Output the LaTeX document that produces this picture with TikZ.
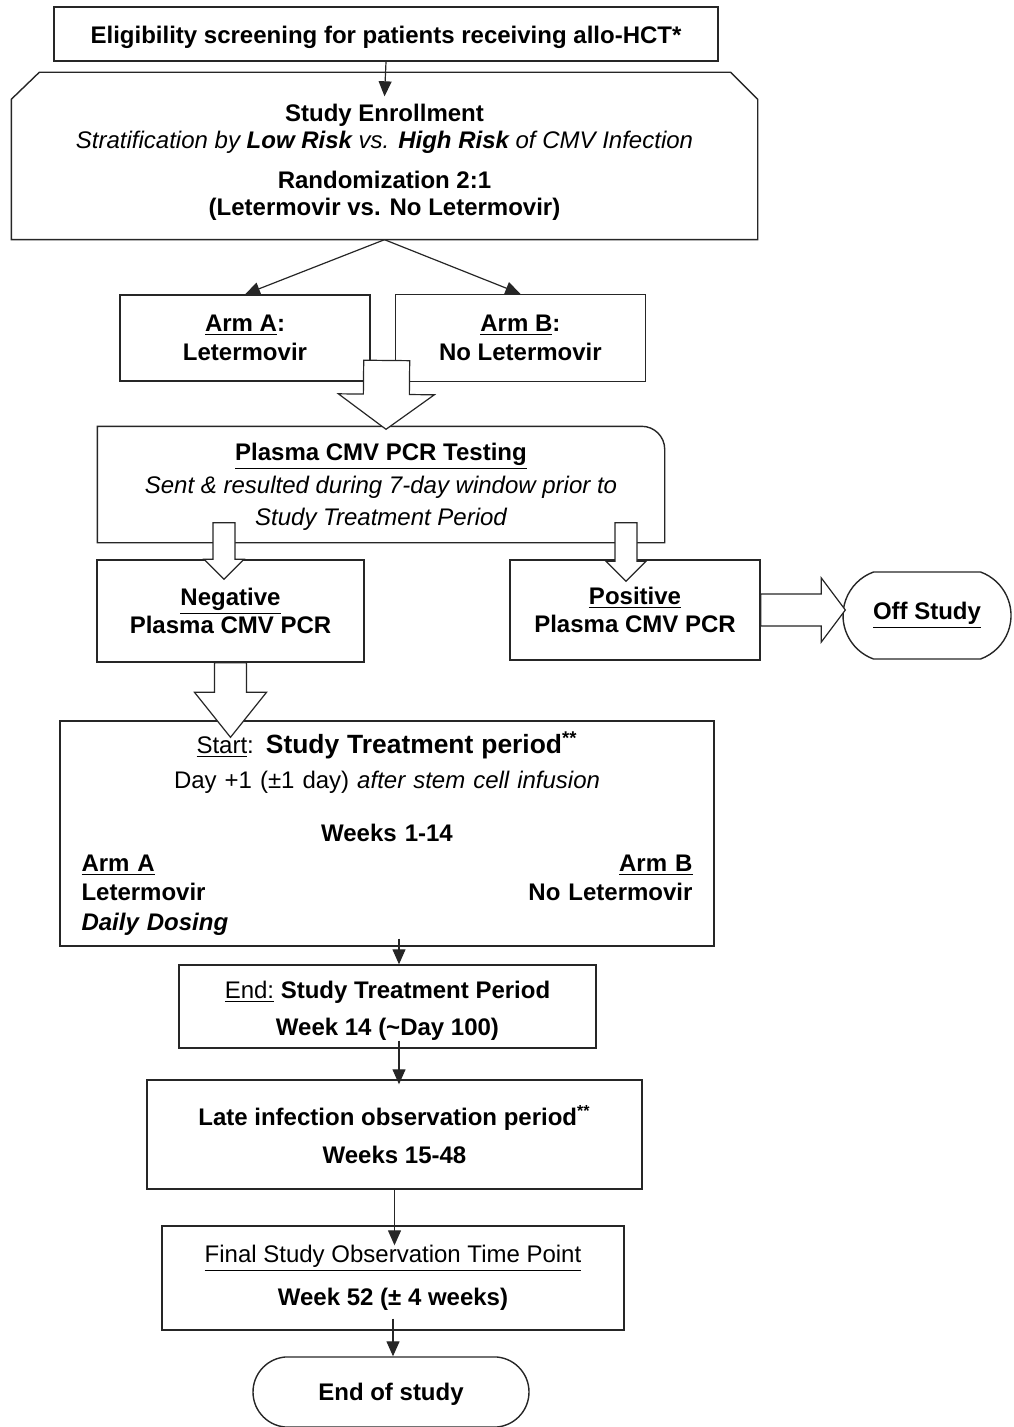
\documentclass[tikz,border=0pt]{standalone}
\usepackage{fontspec}
\setmainfont{Liberation Sans}
\usetikzlibrary{arrows.meta,positioning,calc,shapes.misc}
\newcommand{\sidefill}{\hskip 0pt plus 1filll}
\newcommand{\lift}[1]{\rule{0pt}{#1}}
\newcommand{\fatarrow}[5]{\path ($(#2)!#5!(#1)$) coordinate (fa-base); \draw[fat] ($(#1)!#3!90:(#2)$) -- ($(fa-base)!#3!90:(#2)$) -- ($(fa-base)!#4!90:(#2)$) -- (#2) -- ($(fa-base)!#4!-90:(#2)$) -- ($(fa-base)!#3!-90:(#2)$) -- ($(#1)!#3!-90:(#2)$) -- cycle;}

\begin{document}
\begin{tikzpicture}[x=0.5pt,y=-0.5pt,font=\fontsize{12}{14}\selectfont\bfseries,>={Triangle[length=7.5pt,width=6.5pt]}]
\tikzset{outline/.style={draw=black!85, line width=.7pt}, box/.style={outline, align=center, inner sep=0pt}, pill/.style={box, rounded rectangle}, arr/.style={->, line width=.6pt, draw=black!85}, fat/.style={draw=black!85, line width=.6pt, fill=white, line join=miter}}
\useasboundingbox (0,0) rectangle (1013,1427);
\node[box, minimum width=332pt, minimum height=27pt] (elig) at (386,34) {\lift{11.8pt}Eligibility screening for patients receiving allo-HCT*};
\node[box, draw=none, minimum width=372.5pt, minimum height=83pt] (enrol) at (384.5,156) {\lift{14.8pt}Study Enrollment\\[-0.5pt]{\mdseries\itshape Stratification by {\bfseries Low Risk} vs. {\bfseries High Risk} of CMV Infection}\\[6pt]Randomization 2:1\\[-0.5pt](Letermovir vs. No Letermovir)};
\draw[outline] (enrol.south west) -- ($(enrol.north west)+(0,-13.5pt)$) -- ($(enrol.north west)+(14pt,0)$) -- ($(enrol.north east)+(-13.5pt,0)$) -- ($(enrol.north east)+(0,-13.5pt)$) -- (enrol.south east) -- cycle;
\node[box, minimum width=125pt, minimum height=43pt] (armA) at (245,338) {\underline{Arm A}:\\[0.5pt]Letermovir};
\node[box, minimum width=125pt, minimum height=43.5pt, right=12pt of armA] (armB) {\underline{Arm B}:\\[0.5pt]No Letermovir};
\node[box, draw=none, minimum width=283pt, minimum height=57.5pt] (pcr) at (381,484.5) {\lift{10.8pt}\underline{Plasma CMV PCR Testing}\\[2.5pt]{\mdseries\itshape Sent \& resulted during 7-day window prior to}\\[2pt]{\mdseries\itshape Study Treatment Period}};
\draw[outline] (pcr.south west) -- (pcr.north west) -- ($(pcr.north east)+(-11.5pt,0)$) .. controls ($(pcr.north east)+(-5.15pt,0)$) and ($(pcr.north east)+(0,-5.15pt)$) .. ($(pcr.north east)+(0,-11.5pt)$) -- (pcr.south east) -- cycle;
\node[box, minimum width=133.5pt, minimum height=51pt] (neg) at (230.5,611) {\underline{Negative}\\Plasma CMV PCR};
\node[box, minimum width=125pt, minimum height=50pt] (pos) at (635,610) {\underline{Positive}\\Plasma CMV PCR};
\node[pill, rounded rectangle arc length=140, minimum width=84pt, minimum height=43.5pt] (off) at (927,615.5) {\underline{Off Study}};
\node[box, text width=305.5pt, minimum width=327pt, minimum height=112.5pt] (treat) at (387,833.5) {{\mdseries\underline{Start}:} {\fontsize{13.2}{14}\selectfont Study Treatment period\textsuperscript{**}}\\[3.5pt]{\mdseries Day +1 (\textpm1 day) \itshape after stem cell infusion}\\[12.5pt]Weeks 1-14\\[1pt]\underline{Arm A}\sidefill\underline{Arm B}\\[0.5pt]Letermovir\sidefill No Letermovir\\[1pt]\textit{Daily Dosing}\sidefill\mbox{}};
\node[box, minimum width=208.5pt, minimum height=41.5pt] (endtx) at (387.5,1006.5) {\lift{12.8pt}{\mdseries\underline{End:}} Study Treatment Period\\[4.5pt]Week 14 (\textasciitilde Day 100)};
\node[box, minimum width=247.5pt, minimum height=54.5pt] (late) at (394.5,1134.5) {Late infection observation period\textsuperscript{**}\\[5pt]Weeks 15-48};
\node[box, minimum width=231pt, minimum height=52pt] (final) at (393,1278) {{\mdseries\underline{Final Study Observation Time Point}}\\[7.5pt]Week 52 (\textpm{} 4 weeks)};
\node[pill, rounded rectangle arc length=170, minimum width=138pt, minimum height=35pt] (eos) at (391,1392) {\lift{10.5pt}End of study};
\draw[arr] (elig.south) -- ($(enrol.north)+(0,-12pt)$); \draw[arr] (enrol.south) -- (armA.north); \draw[arr] (enrol.south) -- (armB.north);
\draw[arr] ($(treat.south)+(6pt,4pt)$) -- ($(treat.south |- endtx.north)+(6pt,0)$); \draw[arr] ($(endtx.south)+(5.75pt,4pt)$) -- ($(endtx.south |- late.north)+(5.75pt,-2.5pt)$); \draw[arr] (late.south) -- ($(late.south |- final.north)+(0,-10pt)$); \draw[arr] ($(final.south)+(0,6pt)$) -- (final.south |- eos.north);
\fatarrow{$(armA.south east)!.5!(armB.south west)+(2pt,10.75pt)$}{$(pcr.north)+(2.5pt,-1.5pt)$}{11.5pt}{24pt}{17.5pt}
\fatarrow{$(pcr.south -| neg.north)+(-3.25pt,10pt)$}{$(neg.north)+(-3.25pt,-10pt)$}{5.5pt}{10pt}{10pt}
\fatarrow{$(pcr.south -| pos.north)+(-4.5pt,10pt)$}{$(pos.north)+(-4.5pt,-11pt)$}{5.5pt}{10pt}{10pt}
\fatarrow{pos.east}{$(off.west |- pos.east)+(1.5pt,0)$}{8pt}{16pt}{12pt}
\fatarrow{neg.south}{$(treat.north -| neg.south)+(0,-8.5pt)$}{8pt}{18pt}{22.5pt}
\end{tikzpicture}
\end{document}
